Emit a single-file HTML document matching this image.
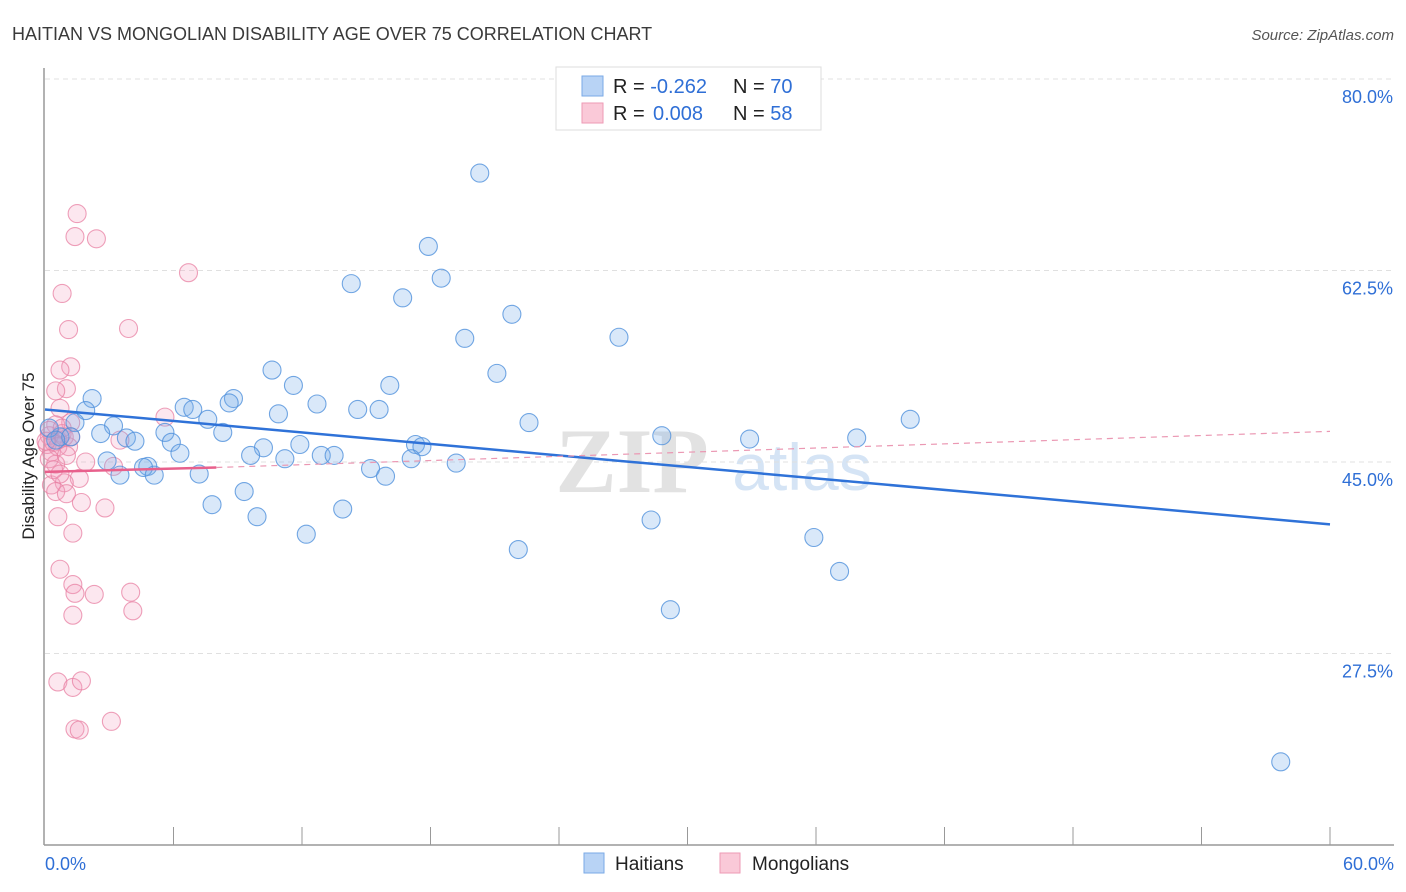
<!DOCTYPE html>
<html><head><meta charset="utf-8">
<style>
body{margin:0;background:#fff;font-family:"Liberation Sans",sans-serif;}
svg{display:block}
</style></head>
<body>
<svg id="chart" width="1406" height="892">
<text x="12" y="40" font-size="18" fill="#3a3a3a">HAITIAN VS MONGOLIAN DISABILITY AGE OVER 75 CORRELATION CHART</text>
<text x="1394" y="40" font-size="15" fill="#555" text-anchor="end" font-style="italic">Source: ZipAtlas.com</text>
<text x="34" y="456" font-size="17" fill="#222" text-anchor="middle" transform="rotate(-90 34 456)">Disability Age Over 75</text>
<text x="632" y="492" font-size="92" fill="#e2e2e2" font-family="Liberation Serif,serif" font-weight="bold" text-anchor="middle">ZIP</text>
<text x="802" y="490" font-size="66" fill="#d5e4f5" text-anchor="middle">atlas</text>
<g id="grid"></g><g id="axes"></g><g id="marks"></g>
<g>
<rect x="556" y="67" width="265" height="63" fill="#fff" stroke="#ddd"/>
<rect x="582" y="76" width="21" height="20" fill="#b8d3f5" stroke="#7aa9e6"/>
<rect x="582" y="103" width="21" height="20" fill="#fac9d8" stroke="#ee9ab5"/>
<text x="613" y="93" font-size="20" fill="#222">R = <tspan fill="#2f6fd6">-0.262</tspan><tspan x="733">N = </tspan><tspan fill="#2f6fd6">70</tspan></text>
<text x="613" y="120" font-size="20" fill="#222">R = <tspan x="653" fill="#2f6fd6">0.008</tspan><tspan x="733">N = </tspan><tspan fill="#2f6fd6">58</tspan></text>
</g>
<g>
<rect x="584" y="853" width="20" height="20" fill="#b8d3f5" stroke="#7aa9e6"/>
<text x="615" y="870" font-size="19" fill="#222">Haitians</text>
<rect x="720" y="853" width="20" height="20" fill="#fac9d8" stroke="#ee9ab5"/>
<text x="752" y="870" font-size="19" fill="#222">Mongolians</text>
</g>
</svg>
<script>
const yTicks=[80,62.5,45,27.5];
const yTickLabels=["80.0%","62.5%","45.0%","27.5%"];
const xTickLabels=["0.0%","60.0%"];
const blueX=[20.3,17.9,18.5,14.3,16.7,21.8,19.6,26.8,10.6,21.1,11.6,16.1,2.2,8.8,8.6,12.7,6.5,6.9,14.6,15.6,1.9,10.9,7.6,40.4,3.2,22.6,1.4,2.6,8.3,5.6,3.8,4.2,5.9,28.8,32.9,37.9,11.9,10.2,17.3,17.6,6.3,9.6,11.2,12.9,13.5,17.1,2.9,19.2,4.8,4.6,3.5,5.1,7.2,15.2,15.9,9.3,7.8,9.9,13.9,28.3,12.2,22.1,35.9,37.1,29.2,57.7,0.7,1.2,0.2,0.5];
const blueY=[71.4,64.7,61.8,61.3,60.0,58.5,56.3,56.4,53.4,53.1,52.0,52.0,50.8,50.8,50.4,50.3,50.0,49.8,49.8,49.8,49.7,49.4,48.9,48.9,48.3,48.6,48.6,47.6,47.7,47.7,47.2,46.9,46.8,47.4,47.1,47.2,46.6,46.3,46.6,46.4,45.8,45.6,45.3,45.6,45.6,45.3,45.1,44.9,44.6,44.5,43.8,43.8,43.9,44.4,43.7,42.3,41.1,40.0,40.7,39.7,38.4,37.0,38.1,35.0,31.5,17.6,47.3,47.3,48.1,47.0];
const pinkX=[1.5,1.4,2.4,6.7,0.8,1.1,3.9,1.2,0.7,1.0,0.5,0.7,5.6,1.2,0.5,0.8,0.6,3.5,1.1,0.3,1.9,0.5,3.2,1.6,0.9,0.3,0.5,1.0,1.7,2.8,0.6,1.3,0.7,1.3,1.4,2.3,4.0,4.1,1.3,0.6,1.3,1.7,3.1,1.4,1.6,0.2,0.1,0.4,0.9,0.6,0.2,0.8,0.2,0.4,0.7,1.0,1.2,0.05];
const pinkY=[67.7,65.6,65.4,62.3,60.4,57.1,57.2,53.7,53.4,51.7,51.5,49.9,49.1,48.6,48.4,47.6,47.0,47.0,46.4,45.9,45.0,44.8,44.6,43.5,43.1,42.9,42.3,42.1,41.3,40.8,40.0,38.5,35.2,33.8,33.0,32.9,33.1,31.4,31.0,24.9,24.4,25.0,21.3,20.6,20.5,47.4,46.6,46.8,47.3,46.4,47.9,48.1,45.3,44.3,43.9,45.6,47.3,46.9];
const blueTrend=[49.8,39.3];
const pinkTrend=[44.1,44.5,47.8];
const pinkTrendX=[0,8,60];

const NS="http://www.w3.org/2000/svg";
const X=v=>45+v*(1285/60);
const Y=v=>79+(80-v)*(383/35);
function mk(tag,attrs,parent){const e=document.createElementNS(NS,tag);for(const k in attrs)e.setAttribute(k,attrs[k]);parent.appendChild(e);return e;}
const grid=document.getElementById('grid'),axes=document.getElementById('axes'),marks=document.getElementById('marks');
yTicks.forEach((t,i)=>{
 const l=mk('line',{x1:45,x2:1394,y1:Y(t),y2:Y(t),stroke:'#e0e0e0','stroke-dasharray':'5,4'},grid);
 
 
 const tx=mk('text',{x:1393,y:Y(t)+24,'font-size':18,fill:'#2f6fd6','text-anchor':'end'},axes);
 tx.textContent=yTickLabels[i];
 
 
});
const ax=mk('line',{x1:44,x2:44,y1:68,y2:845,stroke:'#999','stroke-width':1.5},axes);


const bx=mk('line',{x1:44,x2:1394,y1:845,y2:845,stroke:'#999','stroke-width':1.5},axes);


for(let i=1;i<=10;i++){
 const t=mk('line',{x1:X(i*6),x2:X(i*6),y1:827,y2:845,stroke:'#999'},axes);
 
 
}
[[0,'start',45],[60,'end',1394]].forEach((d,i)=>{
 const t=mk('text',{x:d[2],y:870,'font-size':18,fill:'#2f6fd6','text-anchor':d[1]},axes);
 t.textContent=xTickLabels[i];
 
 
});
pinkX.forEach((v,i)=>{
 const c=mk('circle',{cx:X(v),cy:Y(pinkY[i]),r:9,fill:'rgba(245,160,190,0.25)',stroke:'rgba(232,128,163,0.75)','stroke-width':1.1},marks);
 
 
});
blueX.forEach((v,i)=>{
 const c=mk('circle',{cx:X(v),cy:Y(blueY[i]),r:9,fill:'rgba(120,172,235,0.28)',stroke:'rgba(80,145,220,0.8)','stroke-width':1.1},marks);
 
 
});
const bl=mk('line',{x1:X(0),y1:Y(blueTrend[0]),x2:X(60),y2:Y(blueTrend[1]),stroke:'#2f72d8','stroke-width':2.5},marks);


const pl=mk('line',{x1:X(pinkTrendX[0]),y1:Y(pinkTrend[0]),x2:X(pinkTrendX[1]),y2:Y(pinkTrend[1]),stroke:'#e8608c','stroke-width':2.5},marks);


const pd=mk('line',{x1:X(pinkTrendX[1]),y1:Y(pinkTrend[1]),x2:X(pinkTrendX[2]),y2:Y(pinkTrend[2]),stroke:'#eb98b3','stroke-width':1.2,'stroke-dasharray':'6,5'},marks);


</script>
</body></html>
